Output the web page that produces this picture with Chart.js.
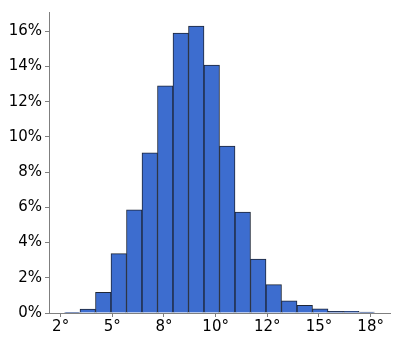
<!DOCTYPE html>
<html>
<head>
<meta charset="utf-8">
<script src="https://cdn.jsdelivr.net/npm/chart.js@4.4.1/dist/chart.umd.min.js"></script>
<style>
	body { margin: 0; background: #fff; }
</style>
</head>
<body>
<canvas id="mycanvas" width="399" height="342"></canvas>
<script>
// bin centres (degrees), bins are 0.8 wide
var binCenters = [2.6, 3.4, 4.2, 5.0, 5.8, 6.6, 7.4, 8.2, 9.0, 9.8,
	10.6, 11.4, 12.2, 13.0, 13.8, 14.6, 15.4, 16.2, 17.0, 17.8];
// share of samples in each bin (%)
var share = [0.04, 0.22, 1.17, 3.37, 5.86, 9.1, 12.9, 15.9, 16.3, 14.08,
	9.48, 5.74, 3.07, 1.61, 0.69, 0.43, 0.24, 0.09, 0.1, 0.05];

var xTickPos = [2, 4.667, 7.333, 10, 12.667, 15.333, 18];
var xTickLabels = ["2°", "5°", "8°", "10°", "12°", "15°", "18°"];
var yTicks = [0, 2, 4, 6, 8, 10, 12, 14, 16];

var points = [];
for (var i in binCenters) {
	points.push({x: binCenters[i], y: share[i]});
}

var axisColor = "#7f7f7f";
var font = {family: "DejaVu Sans", size: 15};

var ctx = document.getElementById("mycanvas");

var Histogram = new Chart(ctx, {
	type: 'bar',
	data: {
		datasets: [
			{
				data: points,
				backgroundColor: "#3d6dcf",
				borderColor: "rgba(18, 26, 44, 0.95)",
				borderWidth: 1,
				barPercentage: 1,
				categoryPercentage: 1
			}
		]
	},
	options: {
		responsive: false,
		animation: false,
		layout: {padding: {top: 8, right: 9, left: 0, bottom: 0}},
		plugins: {legend: {display: false}, tooltip: {enabled: false}},
		scales: {
			x: {
				type: 'linear',
				min: 1.4,
				max: 19.0,
				offset: false,
				afterBuildTicks: function(scale) {
					scale.ticks = xTickPos.map(function(v) { return {value: v}; });
				},
				afterFit: function(scale) { scale.height = 29; },
				ticks: {
					color: "#000",
					font: font,
					padding: 1,
					maxRotation: 0,
					autoSkip: false,
					callback: function(value, index) { return xTickLabels[index]; }
				},
				grid: {offset: false, drawOnChartArea: false, drawTicks: true, tickLength: 4, color: axisColor},
				border: {display: true, color: axisColor, width: 1}
			},
			y: {
				min: 0,
				max: 17.1,
				afterBuildTicks: function(scale) {
					scale.ticks = yTicks.map(function(v) { return {value: v}; });
				},
				afterFit: function(scale) { scale.width = 49; },
				ticks: {
					color: "#000",
					font: font,
					padding: 3,
					callback: function(value) { return value + "%"; }
				},
				grid: {drawOnChartArea: false, drawTicks: true, tickLength: 4, color: axisColor},
				border: {display: true, color: axisColor, width: 1}
			}
		}
	}
});
</script>
</body>
</html>
